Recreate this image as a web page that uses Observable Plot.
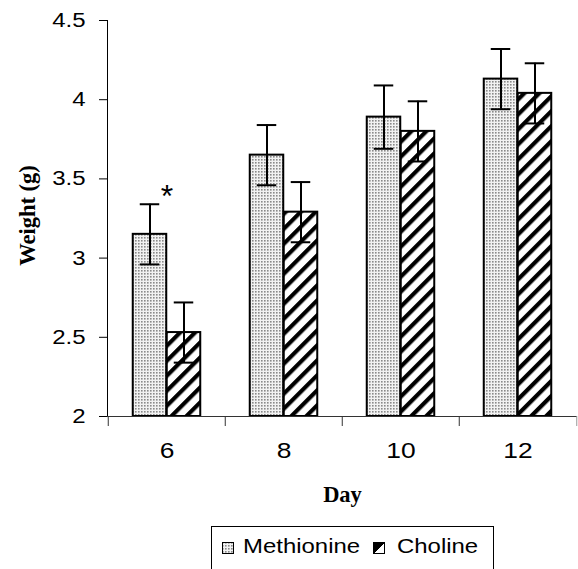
<!DOCTYPE html>
<html>
<head>
<meta charset="utf-8">
<script src="https://cdn.jsdelivr.net/npm/d3@7"></script>
<script src="https://cdn.jsdelivr.net/npm/@observablehq/plot@0.6"></script>
<style>
  html, body { margin: 0; padding: 0; background: #fff; }
  body { width: 578px; height: 569px; overflow: hidden; position: relative; font-family: "Liberation Sans", Arial, sans-serif; }
  #chart svg { display: block; }
  #legend { position: absolute; left: 211px; top: 526px; width: 283px; height: 60px; border: 1px solid #000; box-sizing: border-box; background: #fff; }
  #legend .sw { position: absolute; }
  #legend .lt { position: absolute; font-size: 21px; line-height: 21px; white-space: nowrap; color: #000; transform: scaleX(1.14); transform-origin: left center; }
</style>
</head>
<body>
<div id="chart"></div>
<div id="legend"></div>
<script>
// ---- data ----
const days = [6, 8, 10, 12];
const series = ["Methionine", "Choline"];
const methionine = [3.15, 3.65, 3.89, 4.13];
const choline = [2.53, 3.29, 3.80, 4.04];
const methionineSE = [0.19, 0.19, 0.20, 0.19];
const cholineSE = [0.19, 0.19, 0.19, 0.19];
const yTicks = [2, 2.5, 3, 3.5, 4, 4.5];
const annotations = [{day: 6, y: 3.32, label: "*"}];
const xTitle = "Day";
const yTitle = "Weight (g)";

// ---- layout / style ----
const W = 578, H = 520;
const mL = 107, mR = 1, mT = 20, mB = 104;
const bw = (W - mL - mR) / days.length;
const barW = 34, capW = 20;
const fills = ["url(#dots)", "url(#stripes)"];

const rows = days.map((d, i) => ({
  day: d,
  m: methionine[i], c: choline[i],
  mLo: methionine[i] - methionineSE[i], mHi: methionine[i] + methionineSE[i],
  cLo: choline[i] - cholineSE[i], cHi: choline[i] + cholineSE[i]
}));
const base = yTicks[0];

const plot = Plot.plot({
  width: W, height: H,
  marginLeft: mL, marginRight: mR, marginTop: mT, marginBottom: mB,
  style: {fontFamily: '"Liberation Sans", Arial, sans-serif', fontSize: "20px", color: "#000", background: "#fff", overflow: "visible"},
  x: {type: "band", domain: days, padding: 0},
  y: {domain: [yTicks[0], yTicks[yTicks.length - 1]], ticks: yTicks, tickSize: 8, tickPadding: 14, tickFormat: d => String(d), line: true, label: null},
  marks: [
    Plot.barY(rows, {x: "day", y1: base, y2: "m", fill: fills[0], stroke: "#000", strokeWidth: 2, insetLeft: bw / 2 - barW, insetRight: bw / 2}),
    Plot.barY(rows, {x: "day", y1: base, y2: "c", fill: fills[1], stroke: "#000", strokeWidth: 2, insetLeft: bw / 2, insetRight: bw / 2 - barW}),
    Plot.ruleX(rows, {x: "day", y1: "mLo", y2: "mHi", dx: -barW / 2, stroke: "#000", strokeWidth: 2}),
    Plot.ruleX(rows, {x: "day", y1: "cLo", y2: "cHi", dx: barW / 2, stroke: "#000", strokeWidth: 2}),
    Plot.tickY(rows, {x: "day", y: "mHi", dx: -barW / 2, insetLeft: bw / 2 - capW / 2, insetRight: bw / 2 - capW / 2, stroke: "#000", strokeWidth: 2}),
    Plot.tickY(rows, {x: "day", y: "mLo", dx: -barW / 2, insetLeft: bw / 2 - capW / 2, insetRight: bw / 2 - capW / 2, stroke: "#000", strokeWidth: 2}),
    Plot.tickY(rows, {x: "day", y: "cHi", dx: barW / 2, insetLeft: bw / 2 - capW / 2, insetRight: bw / 2 - capW / 2, stroke: "#000", strokeWidth: 2}),
    Plot.tickY(rows, {x: "day", y: "cLo", dx: barW / 2, insetLeft: bw / 2 - capW / 2, insetRight: bw / 2 - capW / 2, stroke: "#000", strokeWidth: 2}),
    Plot.ruleY([base], {stroke: "#333"}),
    Plot.axisX({tickSize: 10, tickFormat: () => "", dx: -bw / 2, stroke: "#333", label: null}),
    Plot.axisX({ticks: days.slice(-1), tickSize: 10, tickFormat: () => "", dx: bw / 2, stroke: "#999", label: null}),
    Plot.axisX({tickSize: 0, tickPadding: 26, fontSize: 22, label: null}),
    Plot.text([xTitle], {frameAnchor: "bottom", lineAnchor: "bottom", dy: 85, fontFamily: '"Liberation Serif", "Times New Roman", serif', fontWeight: "bold", fontSize: 22.5}),
    Plot.text([yTitle], {frameAnchor: "left", textAnchor: "middle", rotate: -90, dx: -80, dy: -3, fontFamily: '"Liberation Serif", "Times New Roman", serif', fontWeight: "bold", fontSize: 22.5}),
    Plot.text(annotations, {x: "day", y: "y", text: "label", lineAnchor: "bottom", fontSize: 32})
  ]
});

// patterns
const defs = d3.select(plot).insert("defs", ":first-child");
const pd = defs.append("pattern").attr("id", "dots").attr("patternUnits", "userSpaceOnUse").attr("width", 3).attr("height", 3);
pd.append("rect").attr("width", 3).attr("height", 3).attr("fill", "#f2f2f2");
pd.append("rect").attr("width", 1.6).attr("height", 1.6).attr("fill", "#8a8a8a");
const ps = defs.append("pattern").attr("id", "stripes").attr("patternUnits", "userSpaceOnUse").attr("width", 10.6).attr("height", 10.6).attr("patternTransform", "rotate(45)");
ps.append("rect").attr("width", 10.6).attr("height", 10.6).attr("fill", "#fff");
ps.append("rect").attr("width", 4.2).attr("height", 10.6).attr("fill", "#000");

document.getElementById("chart").append(plot);

// widen numeric tick labels like the reference
plot.querySelectorAll("text").forEach(t => {
  if (/^[\d.]+$/.test(t.textContent.trim())) {
    const L = t.getComputedTextLength();
    t.setAttribute("textLength", L * 1.2);
    t.setAttribute("lengthAdjust", "spacingAndGlyphs");
  }
});

// legend
const legend = d3.select("#legend");
const swLeft = [10, 161], txtLeft = [31, 185];
series.forEach((s, i) => {
  const sw = legend.append("svg").attr("class", "sw").attr("width", 12).attr("height", 12)
    .style("left", swLeft[i] + "px").style("top", "15px");
  if (i === 0) {
    sw.append("rect").attr("x", 0.5).attr("y", 0.5).attr("width", 11).attr("height", 11).attr("fill", fills[0]).attr("stroke", "#000");
  } else {
    sw.append("rect").attr("x", 0.5).attr("y", 0.5).attr("width", 11).attr("height", 11).attr("fill", "#fff").attr("stroke", "#000");
    sw.append("path").attr("d", "M0.5,0.5H11.5L0.5,11.5Z").attr("fill", "#000").attr("stroke", "#000");
  }
  legend.append("span").attr("class", "lt").style("left", txtLeft[i] + "px").style("top", "8px").text(s);
});
</script>
</body>
</html>
